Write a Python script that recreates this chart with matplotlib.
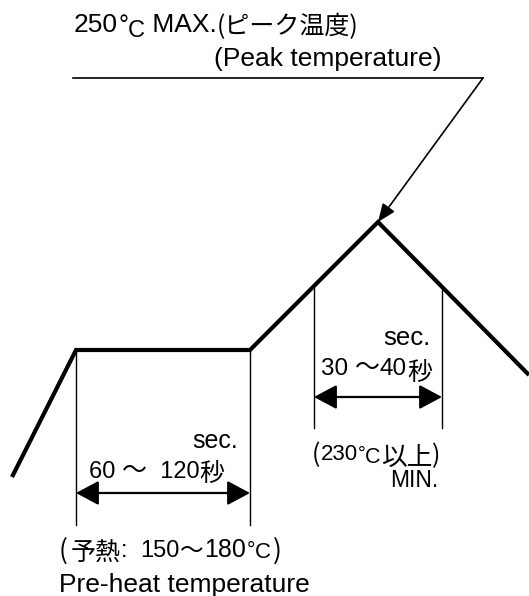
import matplotlib
matplotlib.use("Agg")
from matplotlib import pyplot as plt

LAT = ['Liberation Sans', 'Noto Sans CJK JP']
CJK = ['Noto Sans CJK JP', 'Liberation Sans']

# reflow profile, schematic units (x: time, y: drawing height, down is lower temp)
profile_t = [12, 76, 250, 378, 529]
profile_y = [477, 350, 350, 222, 375]

# preheat window (60~120 s) and peak window (30~40 s)
preheat_t = [76, 250]
preheat_top = 350
peak_t = [314, 442]
peak_top = 288
window_bottom = [525, 428]
window_arrow_y = [493, 397]

# leader from the peak label to the peak point
leader_t = [73, 483]
leader_y = 78

peak_label = ["250", "°", "C", " MAX.", "(ピーク温度)", "(Peak temperature)"]
preheat_time = ["sec.", "60 ", "～", "  120", "秒"]
preheat_label = ["(", "予熱", ":  ", "150", "～", "180", "°", "C", ")", "Pre-heat temperature"]
peak_time = ["sec.", "30 ", "～", "40", "秒"]
peak_limit = ["(", "230", "°", "C", "以上", ")", "MIN."]

fig = plt.figure(figsize=(5.29, 5.96), dpi=100)
ax = fig.add_axes([0, 0, 1, 1])
ax.set_xlim(0, 529)
ax.set_ylim(596, 0)
ax.axis('off')
renderer = fig.canvas.get_renderer()


def put(s, x, y, size, fam=LAT, ha='left'):
    return ax.text(x, y, s, fontsize=size, family=fam, ha=ha, va='baseline', color='k')


def run(x, y, pieces):
    # pieces: (text, size, dy, family, dx); 1 data unit == 1 pixel here
    for s, size, dy, fam, dx in pieces:
        x += dx
        t = put(s, x, y + dy, size, fam)
        x += t.get_window_extent(renderer).width


# profile line
ax.plot(profile_t, profile_y, color='k', lw=3.0, solid_joinstyle='miter', solid_capstyle='butt')

# window markers
for i, (ts, top) in enumerate([(preheat_t, preheat_top), (peak_t, peak_top)]):
    for t in ts:
        ax.plot([t, t], [top, window_bottom[i]], color='k', lw=1.0)
    ax.annotate("", xy=(ts[1], window_arrow_y[i]), xytext=(ts[0], window_arrow_y[i]),
                arrowprops=dict(arrowstyle='<|-|>,head_length=1.4,head_width=0.75',
                                color='k', lw=1.6, shrinkA=0, shrinkB=0))

# peak leader
ax.plot(leader_t, [leader_y, leader_y], color='k', lw=1.2)
ax.annotate("", xy=(profile_t[3], profile_y[3]), xytext=(leader_t[1], leader_y),
            arrowprops=dict(arrowstyle='-|>,head_length=1.1,head_width=0.45',
                            color='k', lw=1.2, shrinkA=0, shrinkB=0))

# peak label
run(74, 32, [(peak_label[0], 19, 0, LAT, 0), (peak_label[1], 18, 1, LAT, 0),
             (peak_label[2], 17, 5, LAT, 0), (peak_label[3], 19, 0, LAT, 0),
             (peak_label[4], 18, 2, CJK, 0)])
put(peak_label[5], 214, 66, 19)

# preheat time
put(preheat_time[0], 238, 448, 18, ha='right')
run(89, 478, [(preheat_time[1], 17, 0, LAT, 0), (preheat_time[2], 18, 0, CJK, 0),
              (preheat_time[3], 17, 0, LAT, 0), (preheat_time[4], 18, 3, CJK, 0)])

# preheat temperature
run(59, 557, [(preheat_label[0], 19, 2, CJK, 0), (preheat_label[1], 18, 3, CJK, 3),
              (preheat_label[2], 17, 0, LAT, 0), (preheat_label[3], 17, 0, LAT, 0),
              (preheat_label[4], 17, 1, CJK, 0), (preheat_label[5], 18, 0, LAT, 1),
              (preheat_label[6], 15, -1, LAT, 0), (preheat_label[7], 16, 1, LAT, 0),
              (preheat_label[8], 19, 2, CJK, 2)])
put(preheat_label[9], 59, 592, 19)

# peak time
put(peak_time[0], 431, 345, 18.5, ha='right')
run(321, 375, [(peak_time[1], 17.5, 0, LAT, 0), (peak_time[2], 18, 0, CJK, 0),
               (peak_time[3], 17.5, 0, LAT, 0), (peak_time[4], 18, 5, CJK, 0)])

# peak limit
run(312, 462, [(peak_limit[0], 18, 0, CJK, 0), (peak_limit[1], 16, -2, LAT, 0),
               (peak_limit[2], 14, -3, LAT, 0), (peak_limit[3], 15.5, 1, LAT, 0),
               (peak_limit[4], 18.5, 3, CJK, 0), (peak_limit[5], 18, 1, CJK, 0)])
put(peak_limit[6], 438, 487, 16.5, ha='right')

plt.savefig("out.png", dpi=100)
